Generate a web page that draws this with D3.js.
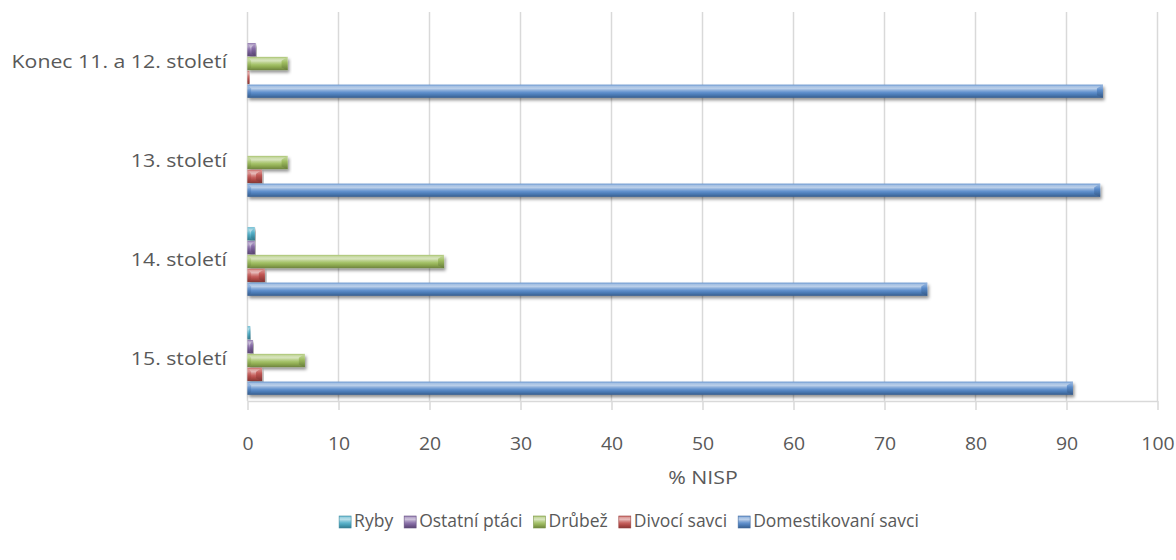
<!DOCTYPE html>
<html>
<head>
<meta charset="utf-8">
<script src="https://cdn.jsdelivr.net/npm/d3@7/dist/d3.min.js"></script>
<style>
  html, body { margin: 0; padding: 0; background: #ffffff; }
  svg { display: block; font-family: "Open Sans", "Liberation Sans", sans-serif; }
  text { fill: #595959; }
</style>
</head>
<body>
<svg id="chart" width="1176" height="560"></svg>
<script>
// Period categories, top to bottom
const categories = ["Konec 11. a 12. století", "13. století", "14. století", "15. století"];
// Series, in the order they are stacked inside each category (top to bottom)
const series = ["Ryby", "Ostatní ptáci", "Drůbež", "Divocí savci", "Domestikovaní savci"];
// % NISP values per series, aligned with categories
const ryby        = [0,   0,   0.8,  0.3];
const ostatniPtaci = [0.9, 0,   0.8,  0.6];
const drubez      = [4.4, 4.4, 21.6, 6.3];
const divociSavci = [0.2, 1.6, 1.9,  1.6];
const domestikovaniSavci = [94.0, 93.7, 74.7, 90.7];
const xTicks = [0, 10, 20, 30, 40, 50, 60, 70, 80, 90, 100];
const axisTitle = "% NISP";

const valuesBySeries = [ryby, ostatniPtaci, drubez, divociSavci, domestikovaniSavci];
const colors = ["#4BACC6", "#8064A2", "#9BBB59", "#C0504D", "#5286C8"];

const svg = d3.select("#chart");
const defs = svg.append("defs");

// Soft drop shadow under the bevelled bars
const shadow = defs.append("filter").attr("id", "shadow")
  .attr("x", "-5%").attr("y", "-30%").attr("width", "115%").attr("height", "190%");
shadow.append("feDropShadow").attr("dx", 1.5).attr("dy", 2.5).attr("stdDeviation", 1.8)
  .attr("flood-color", "#000").attr("flood-opacity", 0.42);

// Vertical gradient per series for the rounded bevel look
colors.forEach((c, i) => {
  const base = d3.color(c);
  const hi = d3.interpolateRgb(c, "#ffffff");
  const lo = d3.interpolateRgb(c, "#000000");
  const g = defs.append("linearGradient").attr("id", "grad" + i)
    .attr("x1", 0).attr("y1", 0).attr("x2", 0).attr("y2", 1);
  [[0, hi(0.12)], [0.15, hi(0.5)], [0.3, hi(0.6)], [0.42, hi(0.35)], [0.58, hi(0.1)],
   [0.78, lo(0.1)], [1, lo(0.3)]]
    .forEach(([o, col]) => g.append("stop").attr("offset", o).attr("stop-color", col));
  const cap = defs.append("linearGradient").attr("id", "cap" + i)
    .attr("x1", 0).attr("y1", 0).attr("x2", 0).attr("y2", 1);
  [[0, hi(0.45)], [0.4, base.toString()], [1, lo(0.35)]]
    .forEach(([o, col]) => cap.append("stop").attr("offset", o).attr("stop-color", col));
});

const x = d3.scaleLinear().domain([0, 100]).range([247.5, 1157.5]);
const y = d3.scaleBand().domain(categories).range([14, 410]).paddingInner(0.3).paddingOuter(0.15);
const ys = d3.scaleBand().domain(series).range([0, y.bandwidth()]);
const axisY = 401;
const textStretch = 1.15;

// Gridlines
svg.append("g").selectAll("line").data(xTicks).join("line")
  .attr("x1", d => x(d)).attr("x2", d => x(d))
  .attr("y1", 12).attr("y2", axisY)
  .attr("stroke", "#d9d9d9").attr("stroke-width", 1.5);

// Horizontal value axis
const xAxis = svg.append("g").attr("transform", `translate(0,${axisY})`)
  .call(d3.axisBottom(x).tickValues(xTicks).tickSize(9).tickPadding(27).tickSizeOuter(0));
xAxis.select(".domain").attr("stroke", "#d9d9d9").attr("stroke-width", 1.5);
xAxis.selectAll(".tick line").attr("stroke", "#d9d9d9").attr("stroke-width", 1.5);
xAxis.selectAll(".tick text").attr("fill", "#595959")
  .attr("transform", "scale(1.05,1)")
  .style("font-size", "18.5px").style("font-family", "'Open Sans', sans-serif");

// Axis title
svg.append("g").attr("transform", `translate(703,479) scale(${textStretch},1)`)
  .append("text").attr("text-anchor", "middle").attr("dominant-baseline", "middle")
  .style("font-size", "18.5px").text(axisTitle);

// Category labels
svg.append("g").selectAll("g").data(categories).join("g")
  .attr("transform", d => `translate(227,${y(d) + y.bandwidth() / 2}) scale(${textStretch},1)`)
  .append("text").attr("text-anchor", "end").attr("dominant-baseline", "middle")
  .style("font-size", "18.5px").text(d => d);

// Bars
const barData = [];
categories.forEach((cat, ci) => {
  series.forEach((s, si) => {
    barData.push({ cat, s, si, v: valuesBySeries[si][ci] });
  });
});

const bars = svg.append("g").selectAll("g").data(barData.filter(d => d.v > 0)).join("g")
  .attr("filter", "url(#shadow)");

bars.each(function(d) {
  const g = d3.select(this);
  const x0 = x(0), x1 = x(d.v);
  const y0 = y(d.cat) + ys(d.s) + 0.3;
  const h = ys.bandwidth() - 0.6;
  const w = x1 - x0;
  const b = Math.min(6, w / 2);
  g.append("rect").attr("x", x0).attr("y", y0).attr("width", w).attr("height", h)
    .attr("fill", `url(#grad${d.si})`);
  // bevelled right end
  g.append("path")
    .attr("d", `M${x1 - b},${y0 + h * 0.3} L${x1},${y0} L${x1},${y0 + h} L${x1 - b},${y0 + h * 0.8} Z`)
    .attr("fill", `url(#cap${d.si})`).attr("opacity", 0.85);
  // bevelled left end
  g.append("path")
    .attr("d", `M${x0},${y0} L${x0 + b * 0.6},${y0 + h * 0.3} L${x0 + b * 0.6},${y0 + h * 0.8} L${x0},${y0 + h} Z`)
    .attr("fill", `url(#cap${d.si})`).attr("opacity", 0.5);
});

// Legend
const legend = svg.append("g");
let lx = 0;
series.forEach((s, i) => {
  const item = legend.append("g").attr("transform", `translate(${lx},0)`);
  item.append("rect").attr("x", 0).attr("y", -6).attr("width", 12).attr("height", 12)
    .attr("fill", `url(#grad${i})`).attr("stroke", d3.color(colors[i]).darker(0.6)).attr("stroke-width", 0.6);
  const t = item.append("text").attr("x", 15).attr("y", 0).attr("dominant-baseline", "middle")
    .style("font-size", "17.5px").text(s);
  lx += 15 + t.node().getComputedTextLength() + 11;
});
const legendWidth = lx - 11;
legend.attr("transform", `translate(${629 - legendWidth / 2},522)`);
</script>
</body>
</html>
